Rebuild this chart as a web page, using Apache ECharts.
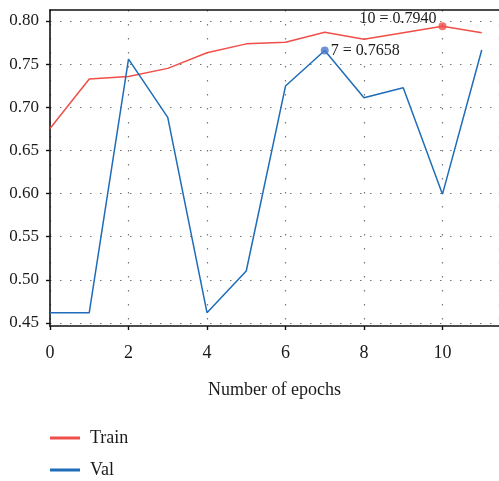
<!DOCTYPE html>
<html><head><meta charset="utf-8">
<script src="https://cdn.jsdelivr.net/npm/echarts@6/dist/echarts.min.js"></script>
<style>html,body{margin:0;padding:0;background:#fff}#c{width:499px;height:481px}</style>
</head><body><div id="c"></div>
<script>
const epochs = [0,1,2,3,4,5,6,7,8,9,10,11];
const trainValues = [0.6755,0.7327,0.7358,0.7451,0.7632,0.7735,0.7753,0.7869,0.7788,0.7865,0.7940,0.7865];
const valValues = [0.462,0.462,0.7559,0.6883,0.462,0.5103,0.7246,0.7658,0.711,0.7226,0.5993,0.7664];
const yTicks = [0.45,0.50,0.55,0.60,0.65,0.70,0.75,0.80];
const xTickLabels = ['0','2','4','6','8','10'];
const trainBest = 10, valBest = 7;

const FONT = '"Liberation Serif","DejaVu Serif",serif';
const RED = '#ef4f48', BLUE = '#1f6cb8', TXT = '#1a1a1a';
const XMAX = 11.44;

const chart = echarts.init(document.getElementById('c'));
const trainData = trainValues.map((v,i)=> i===trainBest ? {
  value:[epochs[i],v], symbol:'circle', symbolSize:8,
  itemStyle:{color:'rgba(239,79,72,0.8)'},
  label:{show:true, position:'left', distance:2, offset:[0,-7], formatter: epochs[i]+' = '+v.toFixed(4),
    color:TXT, fontFamily:FONT, fontSize:16}
} : [epochs[i],v]);
const valData = valValues.map((v,i)=> i===valBest ? {
  value:[epochs[i],v], symbol:'circle', symbolSize:8,
  itemStyle:{color:'rgba(74,120,200,0.8)'},
  label:{show:true, position:'right', distance:2, offset:[0,0], formatter: epochs[i]+' = '+v.toFixed(4),
    color:TXT, fontFamily:FONT, fontSize:16}
} : [epochs[i],v]);

const dotted = {type:[1.5,8.5], color:'#777', width:1.2};
chart.setOption({
  animation:false,
  backgroundColor:'#fff',
  grid:[
    {left:50, right:0, top:21, bottom:158},
    {left:50, right:0, top:10, bottom:155}
  ],
  xAxis:[
    {gridIndex:0, type:'value', min:0, max:XMAX, show:false},
    {gridIndex:1, type:'value', min:0, max:XMAX, interval:2, position:'bottom',
      axisLine:{show:true, lineStyle:{color:'#111', width:1.6}},
      axisTick:{show:true, length:4, lineStyle:{color:'#111', width:1.4}},
      axisLabel:{color:TXT, fontFamily:FONT, fontSize:18, margin:18, showMaxLabel:false,
        formatter:(v)=> xTickLabels.includes(String(v)) ? String(v) : ''},
      splitLine:{show:true, lineStyle:{type:[1.5,12.5], color:'#777', width:1.2}},
      name:'Number of epochs', nameLocation:'middle', nameGap:55,
      nameTextStyle:{color:TXT, fontFamily:FONT, fontSize:18}},
    {gridIndex:1, type:'value', min:0, max:XMAX, position:'top',
      axisLine:{show:true, lineStyle:{color:'#111', width:1.6}},
      axisTick:{show:false}, axisLabel:{show:false}, splitLine:{show:false}}
  ],
  yAxis:[
    {gridIndex:0, type:'value', min:yTicks[0], max:yTicks[yTicks.length-1], interval:0.05,
      axisLine:{show:false},
      axisTick:{show:true, length:4, lineStyle:{color:'#111', width:1.4}},
      axisLabel:{color:TXT, fontFamily:FONT, fontSize:17, margin:11, formatter:(v)=>v.toFixed(2)},
      splitLine:{show:true, lineStyle:dotted}},
    {gridIndex:1, type:'value', min:0, max:1,
      axisLine:{show:true, lineStyle:{color:'#111', width:1.6}},
      axisTick:{show:false}, axisLabel:{show:false}, splitLine:{show:false}}
  ],
  legend:{
    orient:'vertical', left:50, top:429, height:80, padding:0, itemWidth:30, itemHeight:3, itemGap:14,
    icon:'rect',
    data:['Train','Val'],
    textStyle:{color:TXT, fontFamily:FONT, fontSize:18, lineHeight:18, padding:[0,0,0,5]}
  },
  series:[
    {name:'Train', type:'line', xAxisIndex:0, yAxisIndex:0, data:trainData,
      showSymbol:true, symbol:'none', lineStyle:{color:RED, width:1.5}, itemStyle:{color:RED}, z:3},
    {name:'Val', type:'line', xAxisIndex:0, yAxisIndex:0, data:valData,
      showSymbol:true, symbol:'none', lineStyle:{color:BLUE, width:1.5}, itemStyle:{color:BLUE}, z:3}
  ]
});
</script></body></html>
